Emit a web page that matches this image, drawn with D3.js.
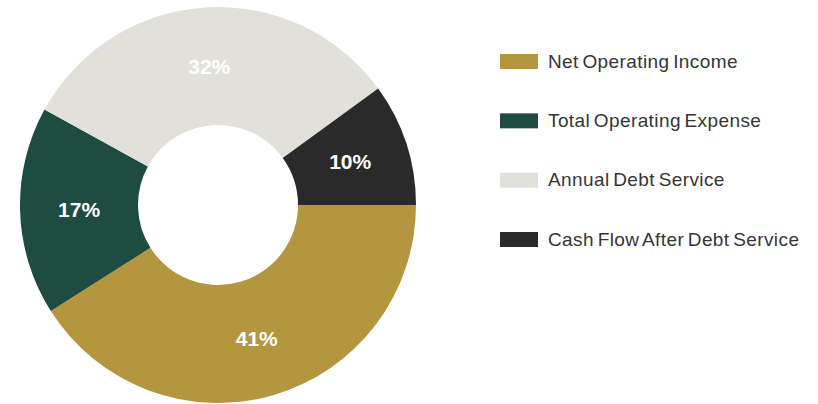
<!DOCTYPE html>
<html>
<head>
<meta charset="utf-8">
<script src="https://cdn.jsdelivr.net/npm/d3@7"></script>
<style>
  html, body { margin: 0; padding: 0; background: #ffffff; }
  svg { display: block; }
</style>
</head>
<body>
<svg id="chart" width="818" height="404"></svg>
<script>
// Share of each component (percent)
const categories = ["Net Operating Income", "Total Operating Expense", "Annual Debt Service", "Cash Flow After Debt Service"];
const values = [41, 17, 32, 10];
const colors = ["#b4963f", "#1f4c40", "#e1e0da", "#2a2a2a"];

const svg = d3.select("#chart");
const cx = 218, cy = 205;
const outerR = 198, innerR = 80;

const data = categories.map((c, i) => ({ name: c, value: values[i], color: colors[i] }));

// Slices start at 3 o'clock and run clockwise
const pie = d3.pie()
  .value(d => d.value)
  .sort(null)
  .startAngle(Math.PI / 2)
  .endAngle(Math.PI / 2 + 2 * Math.PI);

const arc = d3.arc().innerRadius(innerR).outerRadius(outerR);

const g = svg.append("g").attr("transform", `translate(${cx},${cy})`);
const arcs = pie(data);

g.selectAll("path.slice")
  .data(arcs)
  .join("path")
  .attr("class", "slice")
  .attr("d", arc)
  .attr("fill", d => d.data.color);

g.selectAll("text.pct")
  .data(arcs)
  .join("text")
  .attr("class", "pct")
  .attr("transform", d => `translate(${arc.centroid(d)})`)
  .attr("text-anchor", "middle")
  .attr("dy", "0.35em")
  .attr("font-family", "Liberation Sans, Arial, sans-serif")
  .attr("font-weight", "bold")
  .attr("font-size", "21px")
  .attr("fill", "#ffffff")
  .text(d => d.data.value + "%");

// Legend
const legend = svg.append("g").attr("transform", "translate(500,0)");
const rowY = d3.scalePoint().domain(categories).range([61, 239]);

const rows = legend.selectAll("g.row")
  .data(data)
  .join("g")
  .attr("class", "row")
  .attr("transform", d => `translate(0,${rowY(d.name)})`);

rows.append("rect")
  .attr("x", 0)
  .attr("y", -7)
  .attr("width", 38)
  .attr("height", 15)
  .attr("fill", d => d.color);

rows.append("text")
  .attr("x", 48)
  .attr("dy", "0.35em")
  .attr("font-family", "Liberation Sans, Arial, sans-serif")
  .attr("font-size", "19px")
  .attr("letter-spacing", "0.4px")
  .attr("word-spacing", "-2px")
  .attr("fill", "#353535")
  .text(d => d.name);
</script>
</body>
</html>
